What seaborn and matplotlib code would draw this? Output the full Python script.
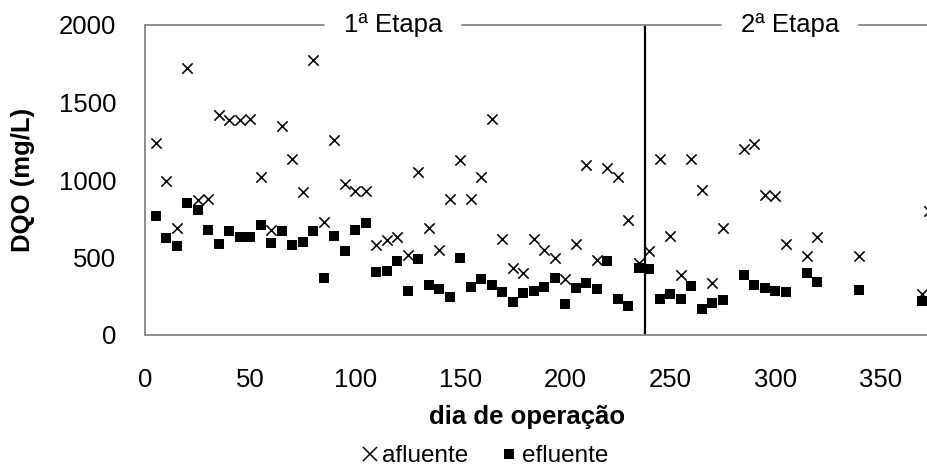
import matplotlib
matplotlib.use("Agg")
import matplotlib.pyplot as plt
from matplotlib.lines import Line2D
import seaborn as sns

# dados
dias_afluente = [5, 10, 15, 20, 25, 30, 35, 40, 45, 50, 55, 60, 65, 70, 75, 80, 85, 90, 95, 100,
                 105, 110, 115, 120, 125, 130, 135, 140, 145, 150, 155, 160, 165, 170, 175, 180,
                 185, 190, 195, 200, 205, 210, 215, 220, 225, 230, 235, 240, 245, 250, 255, 260,
                 265, 270, 275, 285, 290, 295, 300, 305, 315, 320, 340, 370, 373]
dqo_afluente = [1240, 995, 690, 1720, 870, 875, 1420, 1385, 1390, 1395, 1020, 680, 1350, 1135, 920,
                1775, 730, 1260, 975, 930, 930, 580, 610, 635, 515, 1050, 690, 550, 875, 1130, 880,
                1020, 1395, 620, 430, 400, 620, 550, 500, 360, 590, 1100, 485, 1075, 1020, 740, 465,
                540, 1135, 640, 385, 1135, 935, 335, 690, 1200, 1230, 905, 895, 590, 510, 635, 510,
                265, 800]

dias_efluente = [5, 10, 15, 20, 25, 30, 35, 40, 45, 50, 55, 60, 65, 70, 75, 80, 85, 90, 95, 100,
                 105, 110, 115, 120, 125, 130, 135, 140, 145, 150, 155, 160, 165, 170, 175, 180,
                 185, 190, 195, 200, 205, 210, 215, 220, 225, 230, 235, 240, 245, 250, 255, 260,
                 265, 270, 275, 285, 290, 295, 300, 305, 315, 320, 340, 370]
dqo_efluente = [765, 625, 575, 850, 805, 680, 585, 670, 630, 630, 710, 595, 670, 580, 600, 670, 365,
                640, 545, 680, 720, 405, 415, 480, 285, 490, 320, 300, 245, 500, 310, 360, 320, 275,
                210, 270, 285, 310, 370, 200, 305, 335, 300, 475, 230, 185, 435, 425, 235, 265, 235,
                315, 170, 205, 225, 385, 320, 305, 285, 275, 400, 345, 290, 220]

etapas = ["1ª Etapa", "2ª Etapa"]
etapa_centros = [118, 307]
fim_etapa1 = 238

x_ticks = list(range(0, 376, 25))
x_labels = [str(t) if t % 50 == 0 else "" for t in x_ticks]
y_ticks = [0, 500, 1000, 1500, 2000]

sns.set_style("white")
plt.rcParams["font.family"] = ["Liberation Sans", "DejaVu Sans"]
plt.rcParams["text.color"] = "black"
plt.rcParams["axes.labelcolor"] = "black"

cinza = "#868686"
W, H = 928, 467

fig = plt.figure(figsize=(W / 100, H / 100), dpi=100)
ax = fig.add_axes([145.3 / W, 132 / H, 798 / W, 310 / H])

sns.scatterplot(x=dias_afluente, y=dqo_afluente, marker="x", color="black", s=55,
                linewidth=1.15, ax=ax)
sns.scatterplot(x=dias_efluente, y=dqo_efluente, marker="s", color="black", s=56,
                linewidth=0, ax=ax)

ax.set_xlim(0, 380)
ax.set_ylim(0, 2000)
ax.set_xticks(x_ticks)
ax.set_xticklabels(x_labels)
ax.set_yticks(y_ticks)
ax.tick_params(axis="both", direction="out", length=6, width=1.2, color=cinza,
               labelsize=18.5, labelcolor="black")
ax.tick_params(axis="y", pad=15)
ax.tick_params(axis="x", pad=18)

for lado in ["top", "right"]:
    ax.spines[lado].set_visible(False)
for lado in ["left", "bottom"]:
    ax.spines[lado].set_color(cinza)
    ax.spines[lado].set_linewidth(1.3)

ax.axvline(fim_etapa1, color="black", lw=1.6)

ax.set_xlabel("dia de operação", fontsize=18.5, fontweight="bold")
ax.set_ylabel("DQO (mg/L)", fontsize=18.5, fontweight="bold")
ax.xaxis.set_label_coords((527.5 - 145.3) / 798, -(405 - 335) / 310)
ax.yaxis.set_label_coords((35 - 145.3) / 798, 0.5)

# titulos das etapas sobre a linha do topo
textos = []
for nome, cx in zip(etapas, etapa_centros):
    textos.append(ax.text(cx, 2000, nome, ha="center", va="center", fontsize=18.5, clip_on=False))

fig.canvas.draw()
inv = ax.transData.inverted()
pad = 20
limites = [0]
for t in textos:
    bb = t.get_window_extent()
    limites.append(inv.transform((bb.x0 - pad, 0))[0])
    limites.append(inv.transform((bb.x1 + pad, 0))[0])
limites.append(380)
for i in range(0, len(limites), 2):
    ax.plot([limites[i], limites[i + 1]], [2000, 2000], color=cinza, lw=1.3, clip_on=False)

handles = [
    Line2D([], [], ls="none", marker="x", color="black", markersize=10, markeredgewidth=1.1),
    Line2D([], [], ls="none", marker="s", color="black", markersize=7, markeredgewidth=0),
]
fig.legend(handles, ["afluente", "efluente"], loc="center", bbox_to_anchor=(484 / W, 1 - 456 / H),
           ncol=2, frameon=False, fontsize=17.5, handletextpad=0.1, columnspacing=1.3,
           handlelength=0.8, borderpad=0)

plt.savefig("out.png", dpi=100)
